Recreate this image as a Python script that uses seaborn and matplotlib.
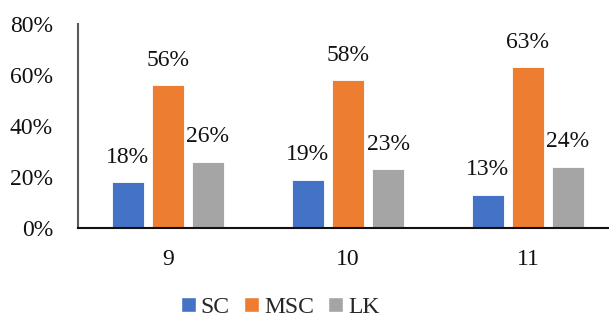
import pandas as pd
import seaborn as sns
from matplotlib import pyplot as plt
from matplotlib.patches import Patch

# values
grades = ["9", "10", "11"]
groups = ["SC", "MSC", "LK"]
sc = [0.18, 0.19, 0.13]
msc = [0.56, 0.58, 0.63]
lk = [0.26, 0.23, 0.24]
colors = ["#4472C4", "#ED7D31", "#A5A5A5"]

df = pd.DataFrame({
    "grade": grades * 3,
    "group": [g for g in groups for _ in grades],
    "share": sc + msc + lk,
})

sns.set_style("white")
plt.rcParams["font.family"] = ["Liberation Serif", "DejaVu Serif"]
fs = 17

fig = plt.figure(figsize=(6.09, 3.23), dpi=100)
ax = fig.add_axes([0.128, 0.294, 0.872, 0.632])

sns.barplot(data=df, x="grade", y="share", hue="group", order=grades,
            hue_order=groups, palette=colors, saturation=1, width=0.667,
            gap=0.2, edgecolor="white", linewidth=0.6, legend=False, ax=ax)

# data labels above each bar
for cont in ax.containers:
    for bar in cont:
        h = bar.get_height()
        ax.annotate(f"{h:.0%}", (bar.get_x() + bar.get_width() / 2, h),
                    xytext=(0, 18), textcoords="offset points",
                    ha="center", va="center", fontsize=fs, color="#111111")

ax.set_ylim(0, 0.8)
ax.set_xlim(-0.5, 2.45)
ax.set_yticks([0, 0.2, 0.4, 0.6, 0.8])
ax.set_yticklabels(["0%", "20%", "40%", "60%", "80%"])
ax.tick_params(axis="both", length=0, labelsize=fs, colors="#111111")
ax.tick_params(axis="y", pad=18)
ax.tick_params(axis="x", pad=15)
ax.set_xlabel("")
ax.set_ylabel("")

sns.despine(ax=ax)
ax.spines["left"].set_color("#595959")
ax.spines["left"].set_linewidth(1.5)
ax.spines["bottom"].set_color("#111111")
ax.spines["bottom"].set_linewidth(1.5)

handles = [Patch(facecolor=c, label=g) for c, g in zip(colors, groups)]
fig.legend(handles=handles, loc="lower center", bbox_to_anchor=(0.46, -0.05),
           ncol=3, frameon=False, fontsize=fs, handlelength=0.65,
           handleheight=0.65, handletextpad=0.2, columnspacing=0.6)

plt.savefig("out.png", dpi=100)
